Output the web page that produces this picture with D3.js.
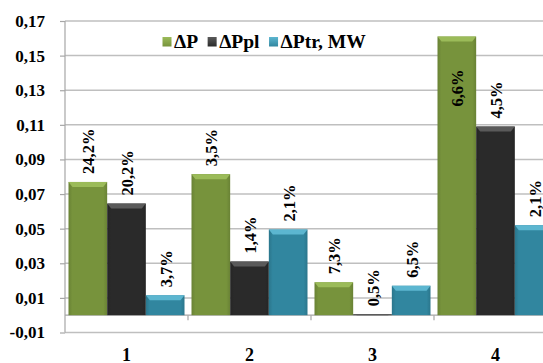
<!DOCTYPE html>
<html>
<head>
<meta charset="utf-8">
<script src="https://cdn.jsdelivr.net/npm/d3@7/dist/d3.min.js"></script>
<style>
  html, body { margin: 0; padding: 0; background: #fff; }
  svg { display: block; }
  svg text { font-family: "Liberation Serif", "Times New Roman", serif; font-weight: bold; fill: #000; }
</style>
</head>
<body>
<svg id="chart" width="543" height="363"></svg>
<script>
// Categories and series
const categories = ["1", "2", "3", "4"];
const seriesNames = ["ΔP", "ΔPpl", "ΔPtr, MW"];
const seriesColors = ["#77933c", "#2a2a2a", "#31869f"];
const seriesLight = ["#9bbb59", "#5a5a5a", "#5cb6d0"];

// Values (MW)
const valuesP   = [0.077, 0.0815, 0.019, 0.161];
const valuesPpl = [0.0645, 0.031, 0.0005, 0.109];
const valuesPtr = [0.0115, 0.0495, 0.017, 0.052];

// Percentage labels shown on the bars
const labelsP   = ["24,2%", "3,5%", "7,3%", "6,6%"];
const labelsPpl = ["20,2%", "1,4%", "0,5%", "4,5%"];
const labelsPtr = ["3,7%", "2,1%", "6,5%", "2,1%"];

// Value axis ticks
const yTicks = [-0.01, 0.01, 0.03, 0.05, 0.07, 0.09, 0.11, 0.13, 0.15, 0.17];

const seriesValues = [valuesP, valuesPpl, valuesPtr];
const seriesLabels = [labelsP, labelsPpl, labelsPtr];

const svg = d3.select("#chart");
const plot = { left: 65, top: 21, bottom: 332.5, right: 557 };

const y = d3.scaleLinear().domain([-0.01, 0.17]).range([plot.bottom, plot.top]);
const x0 = d3.scaleBand().domain(categories).range([plot.left, plot.right]).padding(0);
const x1 = d3.scaleBand().domain(d3.range(seriesNames.length))
  .range([3.5, x0.bandwidth() - 3.5]).padding(0);

const fmt = v => d3.format(".2f")(v).replace(".", ",").replace("−", "-");

// Gradients for the bevelled bars
const defs = svg.append("defs");
seriesColors.forEach((c, i) => {
  const g = defs.append("linearGradient").attr("id", "bar" + i)
    .attr("x1", "0").attr("x2", "1").attr("y1", "0").attr("y2", "0");
  const dark = d3.color(c).darker(0.35);
  g.append("stop").attr("offset", "0%").attr("stop-color", dark);
  g.append("stop").attr("offset", "10%").attr("stop-color", c);
  g.append("stop").attr("offset", "90%").attr("stop-color", c);
  g.append("stop").attr("offset", "100%").attr("stop-color", dark);
  const lg = defs.append("linearGradient").attr("id", "leg" + i)
    .attr("x1", "0").attr("x2", "0").attr("y1", "0").attr("y2", "1");
  lg.append("stop").attr("offset", "0%").attr("stop-color", seriesLight[i]);
  lg.append("stop").attr("offset", "100%").attr("stop-color", c);
});

// Horizontal gridlines
svg.append("g").selectAll("line").data(yTicks).join("line")
  .attr("x1", plot.left).attr("x2", 543)
  .attr("y1", d => y(d)).attr("y2", d => y(d))
  .attr("stroke", "#bfbfbf").attr("stroke-width", 1.5);

// Value axis
const yAxis = d3.axisLeft(y).tickValues(yTicks).tickFormat(fmt).tickSize(5);
const yg = svg.append("g").attr("transform", `translate(${plot.left},0)`).call(yAxis)
  .attr("font-family", null).attr("font-size", null);
yg.select(".domain").attr("stroke", "#a6a6a6").attr("stroke-width", 1.2).attr("d", `M0,${plot.top}V${plot.bottom}`);
yg.selectAll(".tick line").attr("stroke", "#a6a6a6").attr("stroke-width", 1.2);
yg.selectAll(".tick text").style("font-size", "17px").attr("x", -20);

// Category axis at zero
const xg = svg.append("g");
xg.append("line").attr("x1", plot.left).attr("x2", 543).attr("y1", y(0)).attr("y2", y(0))
  .attr("stroke", "#a6a6a6").attr("stroke-width", 1.2);
xg.selectAll("line.tk").data(categories.slice(1)).join("line").attr("class", "tk")
  .attr("x1", d => x0(d)).attr("x2", d => x0(d))
  .attr("y1", y(0)).attr("y2", y(0) + 5)
  .attr("stroke", "#a6a6a6").attr("stroke-width", 1.2);
xg.selectAll("text").data(categories).join("text")
  .attr("x", d => x0(d) + x0.bandwidth() / 2).attr("y", 360.5)
  .attr("text-anchor", "middle").style("font-size", "18px").text(d => d);

// Bars
const bw = x1.bandwidth();
const bars = [];
categories.forEach((cat, ci) => {
  seriesValues.forEach((vals, si) => {
    bars.push({ cat, ci, si, v: vals[ci], label: seriesLabels[si][ci] });
  });
});

const bg = svg.append("g").selectAll("g").data(bars).join("g")
  .attr("transform", d => `translate(${x0(d.cat) + x1(d.si)},0)`);

bg.append("rect")
  .attr("x", 0).attr("width", bw)
  .attr("y", d => y(d.v)).attr("height", d => y(0) - y(d.v))
  .attr("fill", d => `url(#bar${d.si})`);

// Bevelled top edge
bg.append("path")
  .attr("d", d => {
    const t = y(d.v), h = Math.min(5, y(0) - y(d.v));
    return `M0,${t}L${bw},${t}L${bw - 4},${t + h}L4,${t + h}Z`;
  })
  .attr("fill", d => seriesLight[d.si]);

// Rotated value labels
const gap = 8;
bg.append("text")
  .style("font-size", "16.5px")
  .attr("dominant-baseline", "central")
  .attr("transform", function (d) {
    const top = y(d.v);
    const len = 2 + d.label.length * 8.5;
    let base = top - gap;
    // no room above the bar: place the label inside it
    if (base - len < plot.top) base = top + 70;
    return `translate(${bw / 2 + 1},${base}) rotate(-90)`;
  })
  .text(d => d.label);

// Legend
const leg = svg.append("g").attr("transform", "translate(162.5,0)");
let lx = 0;
seriesNames.forEach((name, i) => {
  leg.append("rect").attr("x", lx).attr("y", 37).attr("width", 9).attr("height", 9.5)
    .attr("fill", `url(#leg${i})`);
  const t = leg.append("text").attr("x", lx + 11.5).attr("y", 47.5)
    .style("font-size", "19.5px").text(name);
  lx += 11.5 + t.node().getComputedTextLength() + 9.5;
});
</script>
</body>
</html>
